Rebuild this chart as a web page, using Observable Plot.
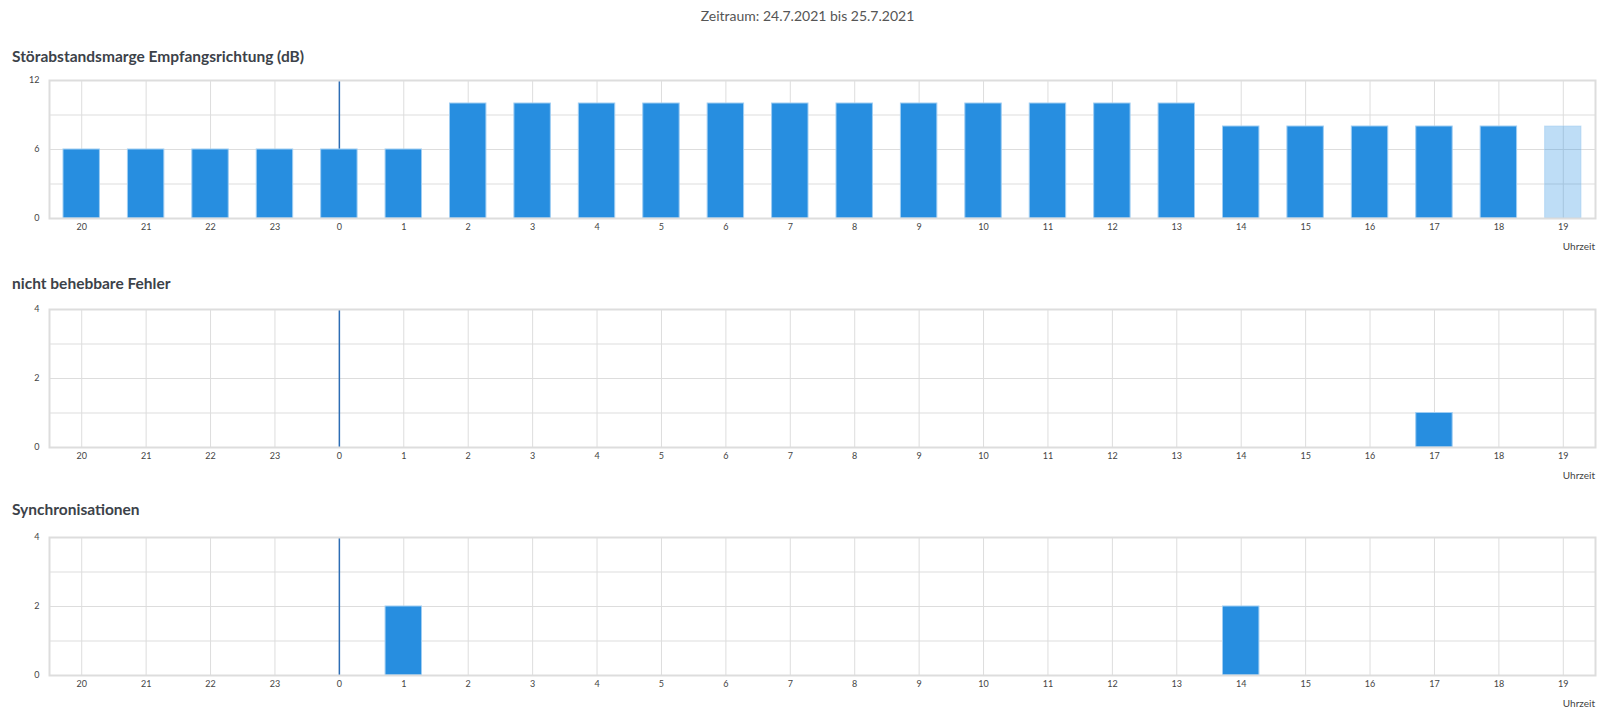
<!DOCTYPE html>
<html>
<head>
<meta charset="utf-8">
<script src="https://cdn.jsdelivr.net/npm/d3@7"></script>
<script src="https://cdn.jsdelivr.net/npm/@observablehq/plot@0.6"></script>
<style>
  html, body { margin: 0; padding: 0; background: #fff; }
  body { width: 1615px; height: 727px; position: relative; overflow: hidden; font-family: Lato, "Open Sans", sans-serif; }
  .header { position: absolute; top: 7px; left: 0; width: 1615px; text-align: center; font-size: 14px; color: #555; }
  .title { position: absolute; left: 12px; font-size: 15.5px; font-weight: bold; color: #3c4249; }
  .chart { position: absolute; left: 0; }
  .xlabel { position: absolute; right: 20px; font-size: 10px; color: #444; }
</style>
</head>
<body>
<script>
const hours = ["20","21","22","23","0","1","2","3","4","5","6","7","8","9","10","11","12","13","14","15","16","17","18","19"];
const snrValues = [6,6,6,6,6,6,10,10,10,10,10,10,10,10,10,10,10,10,8,8,8,8,8,8];
const fehlerValues = [0,0,0,0,0,0,0,0,0,0,0,0,0,0,0,0,0,0,0,0,0,1,0,0];
const syncValues = [0,0,0,0,0,2,0,0,0,0,0,0,0,0,0,0,0,0,2,0,0,0,0,0];
const currentHour = "19";
const dayBoundary = "0";
const headerText = "Zeitraum: 24.7.2021 bis 25.7.2021";
const titles = ["Störabstandsmarge Empfangsrichtung (dB)", "nicht behebbare Fehler", "Synchronisationen"];
const xAxisLabel = "Uhrzeit";

const blue = "#278ee0";
const barStroke = "#9fcdf2";

function chart(values, yDomain, yTicks, gridTicks) {
  const data = hours.map((h, i) => ({hour: h, value: values[i]}));
  return Plot.plot({
    width: 1615,
    height: 190,
    marginTop: 10,
    marginBottom: 42,
    marginLeft: 49,
    marginRight: 20,
    style: {fontFamily: "Lato, 'Open Sans', sans-serif", fontSize: "9px", color: "#444", background: "transparent"},
    x: {type: "band", domain: hours, paddingInner: 0, paddingOuter: 0, align: 0.5, round: false},
    y: {domain: yDomain},
    marks: [
      Plot.gridY(gridTicks, {stroke: "#ddd", strokeOpacity: 1}),
      Plot.gridX(hours, {stroke: "#ddd", strokeOpacity: 1}),
      Plot.gridX([dayBoundary], {stroke: "#2c6db5", strokeOpacity: 1, strokeWidth: 1.5}),
      Plot.barY(data, {filter: d => d.value > 0 && d.hour !== currentHour, x: "hour", y: "value", fill: blue, stroke: barStroke, strokeWidth: 1, insetLeft: 14, insetRight: 14}),
      Plot.barY(data, {filter: d => d.value > 0 && d.hour === currentHour, x: "hour", y: "value", fill: blue, fillOpacity: 0.3, stroke: barStroke, strokeOpacity: 0.5, strokeWidth: 1, insetLeft: 14, insetRight: 14}),
      Plot.frame({stroke: "#ddd", strokeWidth: 2}),
      Plot.axisY(yTicks, {tickSize: 0, tickPadding: 10, label: null}),
      Plot.axisX({tickSize: 0, tickPadding: 5, label: null})
    ]
  });
}

const header = document.createElement("div");
header.className = "header";
header.textContent = headerText;
document.body.appendChild(header);

const configs = [
  {values: snrValues, yDomain: [0, 12], yTicks: [0, 6, 12], grid: [0, 3, 6, 9, 12], top: 70, titleTop: 47},
  {values: fehlerValues, yDomain: [0, 4], yTicks: [0, 2, 4], grid: [0, 1, 2, 3, 4], top: 299, titleTop: 274},
  {values: syncValues, yDomain: [0, 4], yTicks: [0, 2, 4], grid: [0, 1, 2, 3, 4], top: 527, titleTop: 500}
];

configs.forEach((c, i) => {
  const t = document.createElement("div");
  t.className = "title";
  t.style.top = c.titleTop + "px";
  t.textContent = titles[i];
  document.body.appendChild(t);

  const wrap = document.createElement("div");
  wrap.className = "chart";
  wrap.style.top = c.top + "px";
  wrap.appendChild(chart(c.values, c.yDomain, c.yTicks, c.grid));
  document.body.appendChild(wrap);

  const xl = document.createElement("div");
  xl.className = "xlabel";
  xl.style.top = (c.top + 170) + "px";
  xl.textContent = xAxisLabel;
  document.body.appendChild(xl);
});
</script>
</body>
</html>
